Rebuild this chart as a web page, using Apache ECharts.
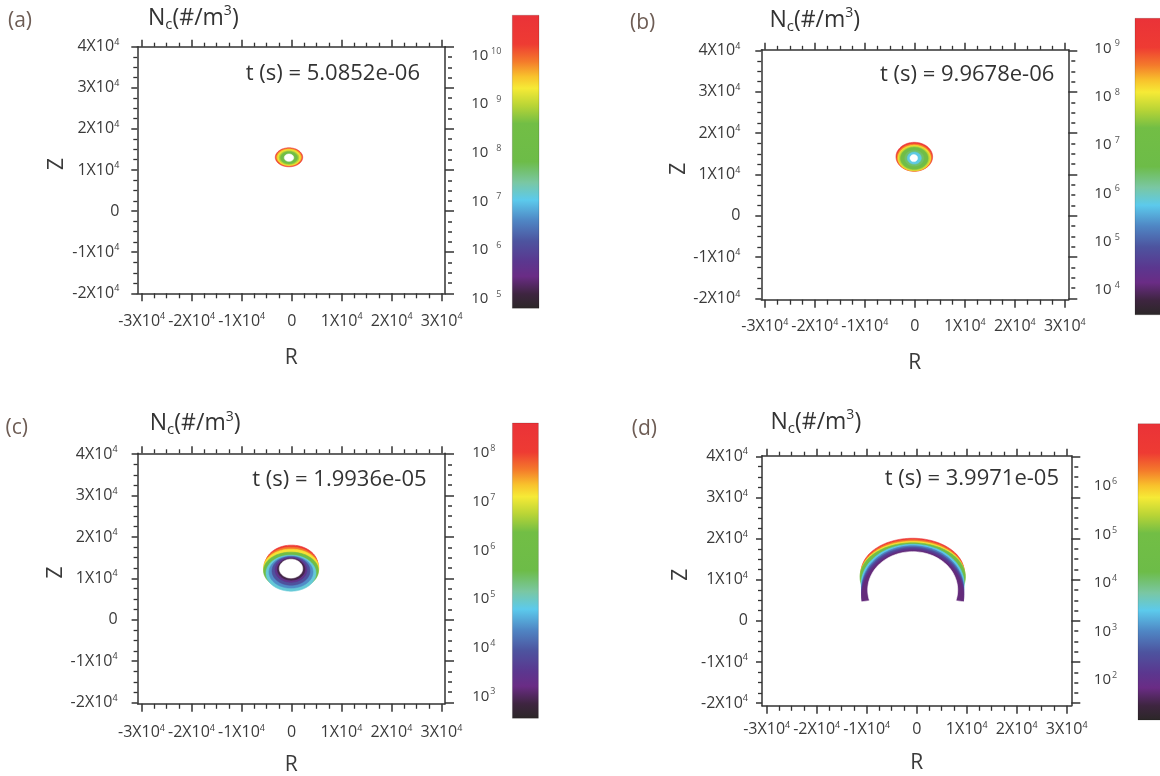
<!DOCTYPE html>
<html>
<head>
<meta charset="utf-8">
<script src="https://cdn.jsdelivr.net/npm/echarts@6/dist/echarts.min.js"></script>
<style>html,body{margin:0;padding:0;background:#fff}#c{width:1160px;height:776px}</style>
</head>
<body>
<div id="c"></div>
<script>
// ---------------- data ----------------
const PANEL_LETTERS = ['(a)', '(b)', '(c)', '(d)'];
const TIMES = ['5.0852e-06', '9.9678e-06', '1.9936e-05', '3.9971e-05'];
const R_TICKS = [-30000, -20000, -10000, 0, 10000, 20000, 30000];
const R_MINOR = [-27500, -25000, -22500, -17500, -15000, -12500, -7500, -5000, -2500,
                 2500, 5000, 7500, 12500, 15000, 17500, 22500, 25000, 27500];
const Z_TICKS = [-20000, -10000, 0, 10000, 20000, 30000, 40000];
const Z_MINOR = [-17500, -15000, -12500, -7500, -5000, -2500, 2500, 5000, 7500,
                 12500, 15000, 17500, 22500, 25000, 27500, 32500, 35000, 37500];
// colour-bar decades (log10 Nc) shown as labels, and the bar's range
const CBAR_EXP_A = [5, 6, 7, 8, 9, 10];
const CBAR_EXP_B = [4, 5, 6, 7, 8, 9];
const CBAR_EXP_C = [3, 4, 5, 6, 7, 8];
const CBAR_EXP_D = [2, 3, 4, 5, 6];
const CBAR_LO = [4.80, 3.49, 2.55, 1.18];
const CBAR_HI = [10.83, 9.62, 8.62, 7.28];
// contour bands: [R centre, Z centre, R half-width, Z half-height, log10 Nc], outermost first
const BANDS_A = [
  [-540, 13090, 2740, 2310, 10.3],
  [-540, 13090, 2500, 2090, 9.65],
  [-540, 13050, 2260, 1900, 9.3],
  [-540, 13000, 2000, 1700, 8.9],
  [-540, 13000, 1700, 1460, 8.3]
];
const BANDS_B = [
  [-100, 14300, 3660, 3500, 9.2],
  [-100, 14100, 3460, 3280, 8.6],
  [-100, 13980, 3260, 3090, 8.15],
  [-100, 13930, 3060, 2900, 7.75],
  [-100, 13930, 2760, 2660, 7.1],
  [-100, 13950, 1900, 1930, 6.4],
  [-100, 13980, 1400, 1450, 5.8]
];
const BANDS_C = [
  [0, 13190, 5300, 4830, 8.2],
  [-60, 12820, 5440, 4710, 7.65],
  [-60, 12460, 5540, 4590, 7.15],
  [-100, 11860, 5500, 4470, 6.1],
  [-100, 11250, 5000, 4350, 4.9],
  [-100, 11500, 4400, 3860, 4.4],
  [-100, 11790, 3800, 3450, 3.9],
  [-100, 12030, 3200, 2970, 3.4],
  [-60, 12170, 2760, 2610, 2.9]
];
const BANDS_D = [
  [-800, 11890, 10300, 8190, 7.0],
  [-800, 11400, 10400, 8310, 6.3],
  [-800, 11040, 10460, 8310, 5.8],
  [-800, 10670, 10540, 8310, 4.8],
  [-800, 8970, 10300, 9650, 3.4],
  [-800, 8000, 10200, 10260, 2.9],
  [-800, 7270, 10220, 10620, 2.5],
  [-800, 6540, 10240, 10990, 2.15],
  [-800, 5810, 10200, 11350, 1.8]
];
// empty (white) regions of each structure: [R centre, Z centre, R half-width, Z half-height]
const HOLE_A = [[-540, 13000, 940, 900]];
const HOLE_B = [[-200, 13980, 760, 850]];
const HOLE_C = [[-100, 12340, 2340, 2290]];
const HOLE_D = [[-800, 7510, 9000, 9310], [-800, -4160, 24000, 9720]];

const BANDS = [BANDS_A, BANDS_B, BANDS_C, BANDS_D];
const HOLES = [HOLE_A, HOLE_B, HOLE_C, HOLE_D];
const CBAR_EXP = [CBAR_EXP_A, CBAR_EXP_B, CBAR_EXP_C, CBAR_EXP_D];

// ---------------- style / layout ----------------
const FONT = '"Open Sans", "DejaVu Sans", sans-serif';
const AX = '#333333', TXT = '#3a3a3a';
const CMAP = [
  [0.00, '#ea3238'], [0.10, '#ee3b33'], [0.16, '#f47b2b'], [0.21, '#f8c22c'], [0.25, '#f6ea36'],
  [0.31, '#b8d436'], [0.37, '#72be45'], [0.50, '#6dbc48'], [0.57, '#7ac7a2'], [0.63, '#5ccaec'],
  [0.70, '#4f86c4'], [0.77, '#4d549f'], [0.84, '#5b378f'], [0.89, '#6a2c85'], [0.95, '#3e2540'],
  [1.00, '#2b2727']
];
const GEO = [
  {left:137.3, top:46.7, width:307.7, height:246.6, xmin:-30880, xmax:30660, ymin:-20000, ymax:40000,
   cb:{left:512.3, top:15.2, width:26.7, height:293.1}, cbMargin:11, supW:13, supAlign:'right',
   yLM:18, xLM:19, rGap:54, zGap:70,
   letter:{left:8, top:8.7}, title:{left:148, top:4.5}, time:{right:740, top:61}},
  {left:761.3, top:49.8, width:307, height:249.9, xmin:-30700, xmax:30700, ymin:-20300, ymax:40200,
   cb:{left:1135, top:18.3, width:27, height:296.5}, cbMargin:15, supW:8.5, supAlign:'right',
   yLM:21, xLM:18, rGap:53, zGap:70,
   letter:{left:630, top:11}, title:{left:769.4, top:6}, time:{right:105.7, top:61.7}},
  {left:137.6, top:453.3, width:307.4, height:250.5, xmin:-30780, xmax:30700, ymin:-20300, ymax:40200,
   cb:{left:512.4, top:423, width:26, height:295.3}, cbMargin:16, supW:7, supAlign:'left',
   yLM:20, xLM:20, rGap:51, zGap:70,
   letter:{left:5.5, top:415.7}, title:{left:149.8, top:409.7}, time:{right:733.4, top:467.2}},
  {left:762, top:455.7, width:309.3, height:250.1, xmin:-30940, xmax:30920, ymin:-20650, ymax:40150,
   cb:{left:1138, top:423.7, width:27, height:296.3}, cbMargin:20, supW:7, supAlign:'left',
   yLM:14, xLM:15, rGap:47, zGap:70,
   letter:{left:631.8, top:416.7}, title:{left:770.5, top:408}, time:{right:101, top:466.2}}
];

function hex(c) { return [parseInt(c.slice(1, 3), 16), parseInt(c.slice(3, 5), 16), parseInt(c.slice(5, 7), 16)]; }
function mix(c1, c2, t) {
  const a = hex(c1), b = hex(c2);
  return 'rgb(' + a.map((v, i) => Math.round(v + (b[i] - v) * t)).join(',') + ')';
}
function colorAt(f) {
  f = Math.max(0, Math.min(1, f));
  for (let i = 1; i < CMAP.length; i++) {
    if (f <= CMAP[i][0]) {
      const a = CMAP[i - 1], b = CMAP[i];
      return mix(a[1], b[1], (f - a[0]) / (b[0] - a[0]));
    }
  }
  return CMAP[CMAP.length - 1][1];
}
function ellipsePoints(api, cx, cz, rx, rz) {
  const pts = [];
  const n = 120;
  for (let i = 0; i < n; i++) {
    const t = i / n * Math.PI * 2;
    pts.push(api.coord([cx + rx * Math.cos(t), cz + rz * Math.sin(t)]));
  }
  return pts;
}
function tickLabel(v) {
  if (v === 0) return '{b|0}';
  return '{b|' + (v / 1e4) + 'X10}{s|4}';
}
const tickRich = {
  b: {fontFamily: FONT, fontSize: 16, lineHeight: 18, color: TXT},
  s: {fontFamily: FONT, fontSize: 9, lineHeight: 9, verticalAlign: 'top', color: TXT}
};

const grids = [], xAxes = [], yAxes = [], series = [], titles = [];

PANEL_LETTERS.forEach((letter, p) => {
  const G = GEO[p];
  const ls = {color: AX, width: 1.5};
  // ---- main plot grid ----
  const gi = grids.length;
  grids.push({left: G.left, top: G.top, width: G.width, height: G.height, show: false,
              containLabel: false, outerBoundsMode: 'none'});
  const xb = xAxes.length;
  const xCommon = {gridIndex: gi, type: 'value', min: G.xmin, max: G.xmax, splitLine: {show: false}};
  xAxes.push(Object.assign({}, xCommon, {
    position: 'bottom',
    axisLine: {show: true, onZero: false, lineStyle: ls},
    axisTick: {show: true, length: 8, customValues: R_TICKS, lineStyle: ls},
    axisLabel: {show: true, customValues: R_TICKS, formatter: tickLabel, rich: tickRich, margin: G.xLM},
    name: 'R', nameLocation: 'middle', nameGap: G.rGap,
    nameTextStyle: {fontFamily: FONT, fontSize: 21, color: TXT}
  }));
  xAxes.push(Object.assign({}, xCommon, {
    position: 'bottom', axisLine: {show: false, onZero: false},
    axisTick: {show: true, length: 5, customValues: R_MINOR, lineStyle: {color: AX, width: 1.3}},
    axisLabel: {show: false}
  }));
  xAxes.push(Object.assign({}, xCommon, {
    position: 'top', axisLine: {show: true, onZero: false, lineStyle: ls},
    axisTick: {show: true, length: 7, customValues: R_TICKS, lineStyle: ls},
    axisLabel: {show: false}
  }));
  xAxes.push(Object.assign({}, xCommon, {
    position: 'top', axisLine: {show: false, onZero: false},
    axisTick: {show: true, length: 4, customValues: R_MINOR, lineStyle: {color: AX, width: 1.3}},
    axisLabel: {show: false}
  }));
  const yb = yAxes.length;
  const yCommon = {gridIndex: gi, type: 'value', min: G.ymin, max: G.ymax, splitLine: {show: false}};
  yAxes.push(Object.assign({}, yCommon, {
    position: 'left',
    axisLine: {show: true, onZero: false, lineStyle: ls},
    axisTick: {show: true, length: 6, customValues: Z_TICKS, lineStyle: ls},
    axisLabel: {show: true, customValues: Z_TICKS, formatter: tickLabel, rich: tickRich, margin: G.yLM},
    name: 'Z', nameLocation: 'middle', nameGap: G.zGap, nameRotate: 90,
    nameTextStyle: {fontFamily: FONT, fontSize: 21, color: TXT, padding: [0, 0, 0, 12]}
  }));
  yAxes.push(Object.assign({}, yCommon, {
    position: 'left', axisLine: {show: false, onZero: false},
    axisTick: {show: true, length: 4, customValues: Z_MINOR, lineStyle: {color: AX, width: 1.3}},
    axisLabel: {show: false}
  }));
  yAxes.push(Object.assign({}, yCommon, {
    position: 'right', axisLine: {show: true, onZero: false, lineStyle: ls},
    axisTick: {show: true, length: 9, customValues: Z_TICKS, lineStyle: ls},
    axisLabel: {show: false}
  }));
  yAxes.push(Object.assign({}, yCommon, {
    position: 'right', offset: 3, axisLine: {show: false, onZero: false},
    axisTick: {show: true, length: 4, customValues: Z_MINOR, lineStyle: {color: AX, width: 1.5}},
    axisLabel: {show: false}
  }));

  const lo = CBAR_LO[p], hi = CBAR_HI[p];
  series.push({
    type: 'custom', coordinateSystem: 'cartesian2d', xAxisIndex: xb, yAxisIndex: yb,
    clip: true, silent: true, animation: false, data: BANDS[p],
    renderItem: function (params, api) {
      const b = BANDS[p][params.dataIndex];
      const fill = colorAt((hi - b[4]) / (hi - lo));
      return {type: 'polygon', shape: {points: ellipsePoints(api, b[0], b[1], b[2], b[3])},
              style: {fill: fill, stroke: fill, lineWidth: 0.6}};
    }
  });
  series.push({
    type: 'custom', coordinateSystem: 'cartesian2d', xAxisIndex: xb, yAxisIndex: yb,
    clip: true, silent: true, animation: false, data: HOLES[p],
    renderItem: function (params, api) {
      const h = HOLES[p][params.dataIndex];
      return {type: 'polygon', shape: {points: ellipsePoints(api, h[0], h[1], h[2], h[3])},
              style: {fill: '#ffffff', stroke: '#ffffff', lineWidth: 0.6}};
    }
  });

  // ---- colour bar grid ----
  const cg = grids.length;
  grids.push({left: G.cb.left, top: G.cb.top, width: G.cb.width, height: G.cb.height, show: false,
              containLabel: false, outerBoundsMode: 'none'});
  const cx = xAxes.length;
  xAxes.push({gridIndex: cg, type: 'value', min: 0, max: 1, show: false});
  const cy = yAxes.length;
  yAxes.push({
    gridIndex: cg, type: 'value', min: lo, max: hi, position: 'left',
    axisLine: {show: false}, axisTick: {show: false}, splitLine: {show: false},
    axisLabel: {
      show: true, customValues: CBAR_EXP[p], margin: G.cbMargin,
      formatter: function (v) { return '{b|10}{s|' + v + '}'; },
      rich: {
        b: {fontFamily: FONT, fontSize: 15, lineHeight: 18, color: TXT},
        s: {fontFamily: FONT, fontSize: 9, lineHeight: 9, verticalAlign: 'top', color: '#555',
            width: G.supW, align: G.supAlign}
      }
    }
  });
  series.push({
    type: 'custom', coordinateSystem: 'cartesian2d', xAxisIndex: cx, yAxisIndex: cy,
    silent: true, animation: false, data: [[lo, hi]],
    renderItem: function (params, api) {
      const p0 = api.coord([0, api.value(1)]);
      const p1 = api.coord([1, api.value(0)]);
      return {
        type: 'rect',
        shape: {x: p0[0], y: p0[1], width: p1[0] - p0[0], height: p1[1] - p0[1]},
        style: {
          fill: new echarts.graphic.LinearGradient(0, 0, 0, 1,
            CMAP.map(s => ({offset: s[0], color: s[1]}))),
          stroke: 'rgba(0,0,0,0.15)', lineWidth: 1
        }
      };
    }
  });

  // ---- texts ----
  titles.push({text: letter, left: G.letter.left, top: G.letter.top, padding: 0,
    textStyle: {fontFamily: FONT, fontSize: 21, fontWeight: 'normal', color: '#6e5d55', lineHeight: 24}});
  titles.push({text: '{n|N}{sub|c}{n|(#/m}{sup|3}{n|)}', left: G.title.left, top: G.title.top, padding: 0,
    textStyle: {fontFamily: FONT, fontSize: 23, fontWeight: 'normal', color: '#333',
      rich: {
        n: {fontFamily: FONT, fontSize: 23, lineHeight: 28, color: '#333'},
        sub: {fontFamily: FONT, fontSize: 15, lineHeight: 15, verticalAlign: 'bottom', color: '#333'},
        sup: {fontFamily: FONT, fontSize: 14, lineHeight: 14, verticalAlign: 'top', color: '#333'}
      }}});
  titles.push({text: 't (s) = ' + TIMES[p], right: G.time.right, top: G.time.top, padding: 0,
    textStyle: {fontFamily: FONT, fontSize: 22, fontWeight: 'normal', color: '#333', lineHeight: 26}});
});

const chart = echarts.init(document.getElementById('c'), null, {renderer: 'canvas', width: 1160, height: 776});
chart.setOption({
  animation: false,
  backgroundColor: '#ffffff',
  title: titles,
  grid: grids,
  xAxis: xAxes,
  yAxis: yAxes,
  series: series
});
</script>
</body>
</html>
